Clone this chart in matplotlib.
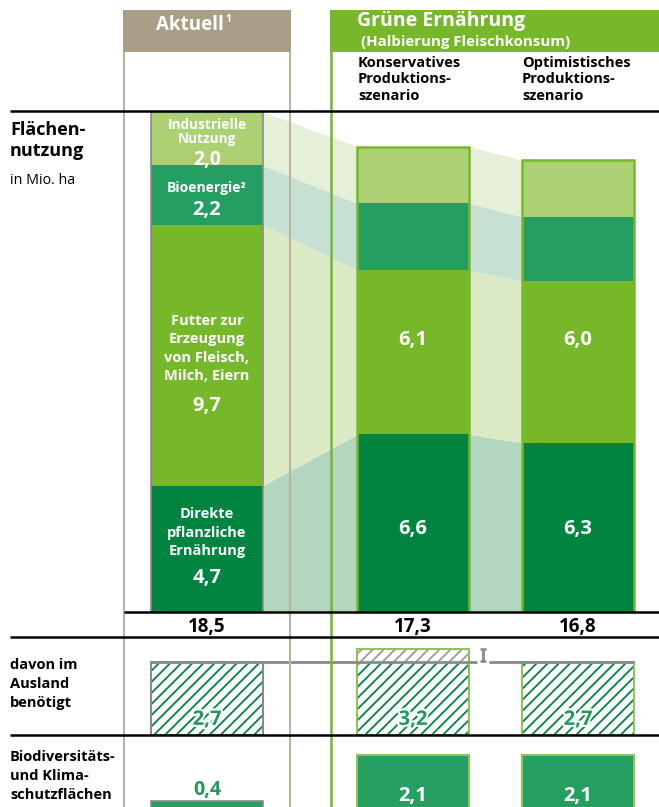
import matplotlib
matplotlib.use("Agg")
import matplotlib.pyplot as plt
import matplotlib.patheffects as pe
import numpy as np

plt.rcParams["font.family"] = ["Open Sans", "DejaVu Sans"]
plt.rcParams["hatch.linewidth"] = 1.3

# ── Data (Mio. ha) ──────────────────────────────────────────────────────────
scenarios  = ["Aktuell", "Konservatives Produktionsszenario", "Optimistisches Produktionsszenario"]
direkt     = [4.7, 6.6, 6.3]     # Direkte pflanzliche Ernährung
futter     = [9.7, 6.1, 6.0]     # Futter zur Erzeugung von Fleisch, Milch, Eiern
bioenergie = [2.2, 2.5, 2.4]
industrie  = [2.0, 2.1, 2.1]
totals     = [18.5, 17.3, 16.8]
ausland    = [2.7, 3.2, 2.7]     # davon im Ausland benötigt
biodiv     = [0.4, 2.1, 2.1]     # Biodiversitäts- und Klimaschutzflächen

# ── Layout / styles ─────────────────────────────────────────────────────────
W, H = 659, 807
bar_x = [207, 413, 578]
bar_w = 112
u1 = 26.9     # px per Mio. ha, land use block
u2 = 27.0     # px per Mio. ha, lower blocks

C_IND, C_BIO, C_FUT, C_DIR = "#acd173", "#259e62", "#76b82a", "#00843f"
BANDS = ["#b3d6be", "#dce9c5", "#c6e1d4", "#e6f0d9"]     # bottom -> top
TAN, TAN_LINE = "#a89f86", "#b9b4a0"
GREEN, GRAY, EDGE_LG = "#76b82a", "#8a8a8a", "#8fc45a"
TXT_GREEN = "#1f9a5a"

fig = plt.figure(figsize=(W / 100, H / 100), dpi=100)


def px_axes(top, bottom, unit=None, z=1):
    ax = fig.add_axes([0, (H - bottom) / H, 1, (bottom - top) / H], zorder=z)
    ax.set_xlim(0, W)
    if unit is None:
        ax.set_ylim(bottom, top)
    else:
        ax.set_ylim(0, (bottom - top) / unit)
    ax.axis("off")
    ax.patch.set_alpha(0)
    return ax


bg = px_axes(0, H, z=0)
ax1 = px_axes(0, 612, u1, z=1)
ax2 = px_axes(637, 735, u2, z=1)
ax3 = px_axes(735, 812, u2, z=1)
fg = px_axes(0, H, z=2)

# ── Header boxes ────────────────────────────────────────────────────────────
bg.add_patch(plt.Rectangle((123, 10), 168, 42, color=TAN, lw=0))
bg.add_patch(plt.Rectangle((330, 10), W - 330, 42, color=GREEN, lw=0))
bg.text(190, 25, "Aktuell", color="white", fontsize=13.5, fontweight="bold",
        ha="center", va="center")
bg.text(228, 20, "1", color="white", fontsize=7.5, fontweight="bold",
        ha="center", va="center")
bg.text(357, 21, "Grüne Ernährung", color="white", fontsize=14, fontweight="bold",
        ha="left", va="center")
bg.text(361, 42, "(Halbierung Fleischkonsum)", color="white", fontsize=10.8,
        fontweight="bold", ha="left", va="center")
bg.text(358, 56, "Konservatives\nProduktions-\nszenario", fontsize=10.5,
        fontweight="bold", ha="left", va="top", linespacing=1.22)
bg.text(522, 56, "Optimistisches\nProduktions-\nszenario", fontsize=10.5,
        fontweight="bold", ha="left", va="top", linespacing=1.22)

# row labels
bg.text(10, 121, "Flächen-\nnutzung", fontsize=13, fontweight="bold", va="top",
        linespacing=1.2)
bg.text(10, 180, "in Mio. ha", fontsize=10.3, va="center")
bg.text(10, 684, "davon im\nAusland\nbenötigt", fontsize=10.5, fontweight="bold",
        va="center", linespacing=1.45)
bg.text(10, 776, "Biodiversitäts-\nund Klima-\nschutzflächen", fontsize=10.5,
        fontweight="bold", va="center", linespacing=1.45)

# ── Land use stacks ─────────────────────────────────────────────────────────
layers = np.array([direkt, futter, bioenergie, industrie])
cols = [C_DIR, C_FUT, C_BIO, C_IND]
bottoms = np.vstack([np.zeros(3), np.cumsum(layers, axis=0)[:-1]])
tops = bottoms + layers

# connecting bands
for i in range(2):
    xl = bar_x[i] + bar_w / 2
    xr = bar_x[i + 1] - bar_w / 2
    for k in range(4):
        ax1.fill_between([xl, xr], [bottoms[k, i], bottoms[k, i + 1]],
                         [tops[k, i], tops[k, i + 1]], color=BANDS[k], lw=0, zorder=1)

for k in range(4):
    ax1.bar(bar_x, layers[k], bottom=bottoms[k], width=bar_w, color=cols[k],
            lw=0, zorder=2)
stack_tot = layers.sum(axis=0)
ax1.bar(bar_x[0], stack_tot[0], width=bar_w, fill=False, edgecolor=GRAY, lw=1.2, zorder=3)
ax1.bar(bar_x[1:], stack_tot[1:], width=bar_w, fill=False, edgecolor=GREEN, lw=1.8, zorder=3)


def fmt(v):
    return f"{v:.1f}".replace(".", ",")


lab = dict(color="white", fontweight="bold", ha="center", va="center", zorder=4)
ax1.text(bar_x[0], 17.85, "Industrielle\nNutzung", fontsize=9.8, linespacing=0.95, **lab)
ax1.text(bar_x[0], 16.8, fmt(industrie[0]), fontsize=14, **lab)
ax1.text(bar_x[0], 15.75, "Bioenergie\u00b2", fontsize=10, **lab)
ax1.text(bar_x[0], 14.95, fmt(bioenergie[0]), fontsize=14.5, **lab)
ax1.text(bar_x[0], 9.8, "Futter zur\nErzeugung\nvon Fleisch,\nMilch, Eiern",
         fontsize=10.5, linespacing=1.4, **lab)
ax1.text(bar_x[0], 7.65, fmt(futter[0]), fontsize=14.5, **lab)
ax1.text(bar_x[0], 2.95, "Direkte\npflanzliche\nErnährung", fontsize=10.5,
         linespacing=1.4, **lab)
ax1.text(bar_x[0], 1.25, fmt(direkt[0]), fontsize=14.5, **lab)
for i in (1, 2):
    ax1.text(bar_x[i], 10.1, fmt(futter[i]), fontsize=14.5, **lab)
    ax1.text(bar_x[i], 3.1, fmt(direkt[i]), fontsize=14.5, **lab)

# totals
for x, t in zip(bar_x, totals):
    bg.text(x, 627, fmt(t), fontsize=13.5, fontweight="bold", ha="center", va="center")

# ── Abroad (hatched) ────────────────────────────────────────────────────────
ref = ausland[0]
base = [min(a, ref) for a in ausland]
extra = [max(a - ref, 0) for a in ausland]
ax2.bar(bar_x, base, width=bar_w, color="white", edgecolor=C_DIR, lw=0,
        hatch="///", zorder=2)
ax2.bar(bar_x, extra, bottom=base, width=bar_w, color="white", edgecolor="#9a9a9a",
        lw=0, hatch="///", zorder=2)
ax2.bar(bar_x[0], ausland[0], width=bar_w, fill=False, edgecolor=GRAY, lw=1.5, zorder=3)
ax2.bar(bar_x[1:], ausland[1:], width=bar_w, fill=False, edgecolor=EDGE_LG, lw=1.5, zorder=3)
# reference line at current value, with marker for the difference
mk = 483
ax2.hlines(ref, bar_x[0] - bar_w / 2, mk - 6, color=GRAY, lw=2, zorder=4)
ax2.hlines(ref, mk + 6, bar_x[2] + bar_w / 2, color=GRAY, lw=2, zorder=4)
ax2.vlines(mk, ref, ausland[1], color=GRAY, lw=2, zorder=4)
ax2.hlines([ref + 0.03, ausland[1] - 0.03], mk - 3, mk + 3, color=GRAY, lw=1.8, zorder=4)
for x, a in zip(bar_x, ausland):
    ax2.text(x, 0.56, fmt(a), color=TXT_GREEN, fontsize=14.5, fontweight="bold",
             ha="center", va="center", zorder=5,
             path_effects=[pe.withStroke(linewidth=3, foreground="white")])

# ── Biodiversity / climate protection ───────────────────────────────────────
ax3.bar(bar_x[0], biodiv[0], width=bar_w, color=C_BIO, edgecolor=GRAY, lw=1.2, zorder=2)
ax3.bar(bar_x[1:], biodiv[1:], width=bar_w, color=C_BIO, edgecolor=EDGE_LG, lw=1.5, zorder=2)
ax3.text(bar_x[0], biodiv[0] + 0.4, fmt(biodiv[0]), color=TXT_GREEN, fontsize=14,
         fontweight="bold", ha="center", va="center")
for i in (1, 2):
    ax3.text(bar_x[i], 0.6, fmt(biodiv[i]), color="white", fontsize=14.5,
             fontweight="bold", ha="center", va="center", zorder=3)

# ── Grid lines on top ───────────────────────────────────────────────────────
fg.vlines([124, 290], 52, H, color=TAN_LINE, lw=1.5)
fg.vlines(330.5, 10, H, color=GREEN, lw=1.8)
fg.hlines([111, 637, 735], 10, W, color="black", lw=1.8)
fg.hlines(612, 124, W, color="black", lw=1.8)

fig.savefig("out.png", dpi=100)
